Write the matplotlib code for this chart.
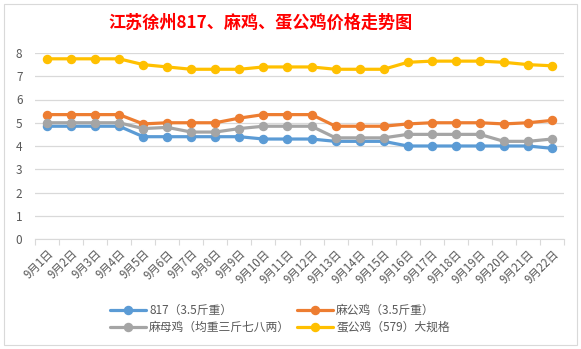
import matplotlib.pyplot as plt
from matplotlib.patches import Rectangle

plt.rcParams['font.family'] = ['Noto Sans CJK SC', 'DejaVu Sans']

days = ['9月{}日'.format(d) for d in range(1, 23)]

price_817 = [4.85, 4.85, 4.85, 4.85, 4.4, 4.4, 4.4, 4.4, 4.4, 4.3, 4.3,
             4.3, 4.2, 4.2, 4.2, 4.0, 4.0, 4.0, 4.0, 4.0, 4.0, 3.9]
price_ma_rooster = [5.35, 5.35, 5.35, 5.35, 4.95, 5.0, 5.0, 5.0, 5.2, 5.35, 5.35,
                    5.35, 4.85, 4.85, 4.85, 4.95, 5.0, 5.0, 5.0, 4.95, 5.0, 5.1]
price_ma_hen = [5.0, 5.0, 5.0, 5.0, 4.75, 4.8, 4.6, 4.6, 4.75, 4.85, 4.85,
                4.85, 4.35, 4.35, 4.35, 4.5, 4.5, 4.5, 4.5, 4.2, 4.2, 4.3]
price_egg_rooster = [7.75, 7.75, 7.75, 7.75, 7.5, 7.4, 7.3, 7.3, 7.3, 7.4, 7.4,
                     7.4, 7.3, 7.3, 7.3, 7.6, 7.65, 7.65, 7.65, 7.6, 7.5, 7.45]

series = [
    ('817（3.5斤重）', price_817, '#5B9BD5'),
    ('麻公鸡（3.5斤重）', price_ma_rooster, '#ED7D31'),
    ('麻母鸡（均重三斤七八两）', price_ma_hen, '#A5A5A5'),
    ('蛋公鸡（579）大规格', price_egg_rooster, '#FFC000'),
]

fig = plt.figure(figsize=(5.81, 3.49), dpi=100)
fig.patches.append(Rectangle((4 / 581, 4 / 349), 573 / 581, 341 / 349,
                             transform=fig.transFigure, fill=False,
                             edgecolor='#d9d9d9', linewidth=0.8))

ax = fig.add_axes([35 / 581, 1 - 239 / 349, 529 / 581, 186 / 349])

x = list(range(len(days)))
lines = []
for name, vals, color in series:
    ln, = ax.plot(x, vals, color=color, linewidth=2.3, marker='o', markersize=5.8,
                  label=name, solid_capstyle='round')
    lines.append(ln)

ax.set_xlim(-0.5, len(days) - 0.5)
ax.set_ylim(0, 8)
ax.set_yticks(range(0, 9))
ax.grid(axis='y', color='#d9d9d9', linewidth=0.9)
ax.set_axisbelow(True)

for side in ['top', 'right', 'left']:
    ax.spines[side].set_visible(False)
ax.spines['bottom'].set_color('#d9d9d9')

# tick marks sit between categories, labels sit on them
ax.set_xticks([i - 0.5 for i in range(len(days) + 1)], minor=False)
ax.set_xticklabels([])
ax.set_xticks(x, minor=True)
ax.set_xticklabels(days, minor=True, rotation=45, ha='right',
                   rotation_mode='anchor', fontsize=8.3, color='#595959')
ax.tick_params(axis='x', which='major', length=4, color='#d9d9d9')
ax.tick_params(axis='x', which='minor', length=0, pad=6)
ax.tick_params(axis='y', length=0, labelsize=8.5, labelcolor='#595959', pad=9)

fig.text(0.448, 1 - 23 / 349, '江苏徐州817、麻鸡、蛋公鸡价格走势图', color='red',
         fontsize=12.3, fontweight='bold', ha='center', va='center')

# legend reads row by row: 817, 麻公鸡 / 麻母鸡, 蛋公鸡
order = [0, 2, 1, 3]
fig.legend([lines[i] for i in order], [series[i][0] for i in order],
           loc='center', bbox_to_anchor=(0.482, 1 - 319 / 349), ncol=2,
           frameon=False, fontsize=8.5, handlelength=3, columnspacing=0.6,
           labelspacing=0.3, handletextpad=0.3, labelcolor='#595959')

plt.savefig('out.png', dpi=100)
